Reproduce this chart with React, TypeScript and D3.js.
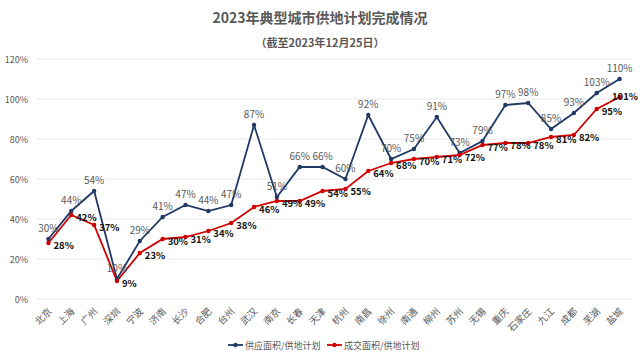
import React from "react";
import * as d3 from "d3";

const cities = ["北京", "上海", "广州", "深圳", "宁波", "济南", "长沙", "合肥", "台州", "武汉", "南京", "长春", "天津", "杭州", "南昌", "徐州", "南通", "柳州", "苏州", "无锡", "重庆", "石家庄", "九江", "成都", "芜湖", "盐城"];
const supply = [30, 44, 54, 10, 29, 41, 47, 44, 47, 87, 51, 66, 66, 60, 92, 70, 75, 91, 73, 79, 97, 98, 85, 93, 103, 110];
const deal = [28, 42, 37, 9, 23, 30, 31, 34, 38, 46, 49, 49, 54, 55, 64, 68, 70, 71, 72, 77, 78, 78, 81, 82, 95, 101];
const yTicks = [0, 20, 40, 60, 80, 100, 120];

const W = 640;
const H = 358;
const font = "'Microsoft YaHei', 'Noto Sans CJK SC', sans-serif";
const grey = "#595959";
const navy = "#203864";
const red = "#D00000";

export default function App() {
  const x = d3.scaleBand().domain(cities).range([37, 631]);
  const y = d3.scaleLinear().domain([0, 120]).range([299, 59]);
  const cx = (c: string) => (x(c) as number) + x.bandwidth() / 2;

  const line = d3
    .line<number>()
    .x((_, i) => cx(cities[i]))
    .y((d) => y(d));

  // keep the last red label inside the frame
  const edge = (i: number) => cx(cities[i]) + 31 > W - 2;
  const dealX = (i: number) => (edge(i) ? W - 28 : cx(cities[i]) + 5);
  const dealY = (i: number) => y(deal[i]) + (edge(i) ? 3 : 6);

  return (
    <svg width={W} height={H} style={{ position: "absolute", left: 0, top: 0, background: "#fff" }} fontFamily={font}>
      <text x={320} y={23} textAnchor="middle" fontSize={14} fontWeight="bold" fill={grey}>
        2023年典型城市供地计划完成情况
      </text>
      <text x={320} y={47} textAnchor="middle" fontSize={11} fontWeight="bold" fill={grey}>
        （截至2023年12月25日）
      </text>

      {yTicks.map((t) => (
        <g key={t}>
          <line x1={37} x2={632} y1={y(t)} y2={y(t)} stroke="#e8e8e8" strokeWidth={1} />
          <text x={28} y={y(t) + 3.5} textAnchor="end" fontSize={9} fill={grey}>
            {t}%
          </text>
        </g>
      ))}

      {cities.map((c) => (
        <text
          key={c}
          transform={`translate(${cx(c) + 4},${312}) rotate(-45)`}
          textAnchor="end"
          fontSize={9.5}
          fill={grey}
        >
          {c}
        </text>
      ))}

      <path d={line(supply) || ""} fill="none" stroke={navy} strokeWidth={1.8} />
      <path d={line(deal) || ""} fill="none" stroke={red} strokeWidth={1.8} />

      {supply.map((v, i) => (
        <circle key={"s" + i} cx={cx(cities[i])} cy={y(v)} r={2.2} fill={navy} />
      ))}
      {deal.map((v, i) => (
        <circle key={"d" + i} cx={cx(cities[i])} cy={y(v)} r={2.2} fill={red} />
      ))}

      {supply.map((v, i) => (
        <text key={"sl" + i} x={cx(cities[i])} y={y(v) - 7} textAnchor="middle" fontSize={10} fill={grey}>
          {v}%
        </text>
      ))}
      {deal.map((v, i) => (
        <text key={"dl" + i} x={dealX(i)} y={dealY(i)} fontSize={9.5} fontWeight="bold" fill="#111">
          {v}%
        </text>
      ))}

      <g>
        <line x1={228} x2={243} y1={345} y2={345} stroke={navy} strokeWidth={1.8} />
        <circle cx={235.5} cy={345} r={2.2} fill={navy} />
        <text x={245} y={348.5} fontSize={9} fill={grey}>
          供应面积/供地计划
        </text>
        <line x1={327} x2={342} y1={345} y2={345} stroke={red} strokeWidth={1.8} />
        <circle cx={334.5} cy={345} r={2.2} fill={red} />
        <text x={344} y={348.5} fontSize={9} fill={grey}>
          成交面积/供地计划
        </text>
      </g>
    </svg>
  );
}
